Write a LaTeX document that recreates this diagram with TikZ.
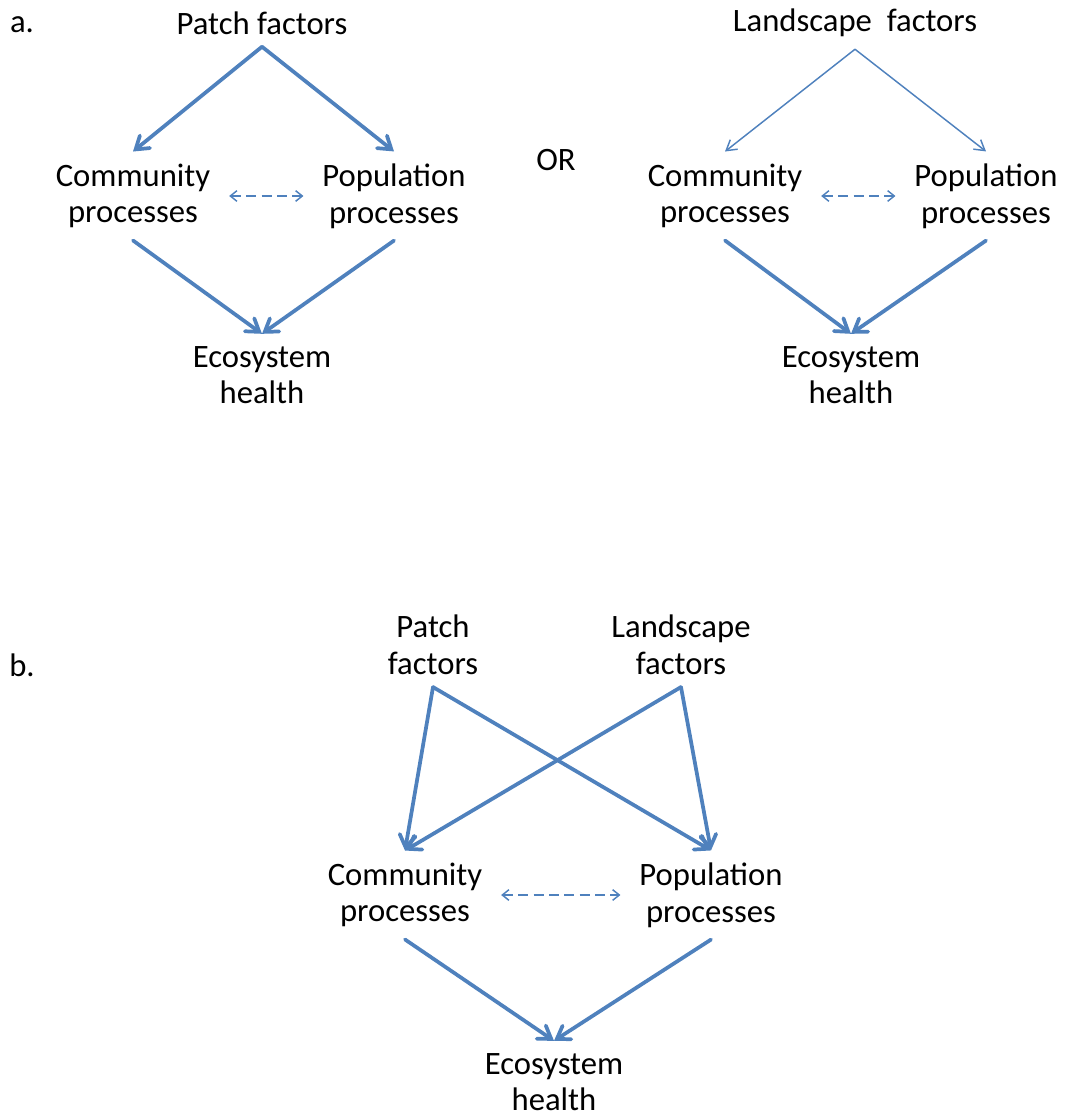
\documentclass[tikz,border=0pt]{standalone}
\usepackage{fontspec}
\setmainfont{Carlito}
\usepackage{xcolor}
\usetikzlibrary{arrows.meta, positioning}
\definecolor{flowblue}{HTML}{4F81BD}

\begin{document}
\begin{tikzpicture}[
            x=0.75pt, y=-0.75pt,
            label/.style={font=\fontsize{24.5}{27.5}\selectfont, align=center, inner xsep=4pt, inner ysep=9pt},
            panel/.style={font=\fontsize{24.5}{27.5}\selectfont, inner sep=0pt},
            flow/.style={draw=flowblue, line width=2.8pt, line cap=round, -{Straight Barb[length=9pt, width=12pt, line cap=round]}},
            thinflow/.style={draw=flowblue, line width=1.1pt, -{Straight Barb[length=7.5pt, width=9pt]}},
            link/.style={draw=flowblue, line width=1.1pt, dash pattern=on 7.5pt off 4pt, {Straight Barb[length=5pt, width=8pt]}-{Straight Barb[length=5pt, width=8pt]}, shorten <=10pt, shorten >=10pt}
        ]
        \useasboundingbox (0,0) rectangle (1070,1117);

        % Panel a, left: patch factors only
        \node[panel] (tag_a) at (22,25) {a.};
        \node[label] (patch_a) at (262,23) {Patch factors};
        \node[label] (comm_a) at (133,196) {Community\\processes};
        \node[label] (pop_a) at (394,196) {Population\\processes};
        \node[label] (eco_a) at (262,375) {Ecosystem\\health};
        \draw[flow] (patch_a.south) -- (comm_a.north);
        \draw[flow] (patch_a.south) -- (pop_a.north);
        \draw[flow] (comm_a.south) -- (eco_a.north);
        \draw[flow] (pop_a.south) -- (eco_a.north);
        \draw[link] (comm_a.east) -- (pop_a.west);

        \node[panel] (or) at (556,160) {OR};

        % Panel a, right: landscape factors only
        \node[label] (land_a) at (855,23) {Landscape\ \ factors};
        \node[label] (comm_r) at (725,196) {Community\\processes};
        \node[label] (pop_r) at (986,196) {Population\\processes};
        \node[label] (eco_r) at (851,375) {Ecosystem\\health};
        \draw[thinflow] (land_a.south) -- (comm_r.north);
        \draw[thinflow] (land_a.south) -- (pop_r.north);
        \draw[flow] (comm_r.south) -- (eco_r.north);
        \draw[flow] (pop_r.south) -- (eco_r.north);
        \draw[link] (comm_r.east) -- (pop_r.west);

        % Panel b: both sets of factors
        \node[panel] (tag_b) at (22,665) {b.};
        \node[label] (patch_b) at (433,645) {Patch\\factors};
        \node[label] (land_b) at (681,645) {Landscape\\factors};
        \node[label] (comm_b) at (405,895) {Community\\processes};
        \node[label] (pop_b) at (711,895) {Population\\processes};
        \node[label] (eco_b) at (554,1082) {Ecosystem\\health};
        \draw[flow] (patch_b.south) -- (comm_b.north);
        \draw[flow] (patch_b.south) -- (pop_b.north);
        \draw[flow] (land_b.south) -- (comm_b.north);
        \draw[flow] (land_b.south) -- (pop_b.north);
        \draw[flow] (comm_b.south) -- (eco_b.north);
        \draw[flow] (pop_b.south) -- (eco_b.north);
        \draw[link] (comm_b.east) -- (pop_b.west);
    \end{tikzpicture}
\end{document}
